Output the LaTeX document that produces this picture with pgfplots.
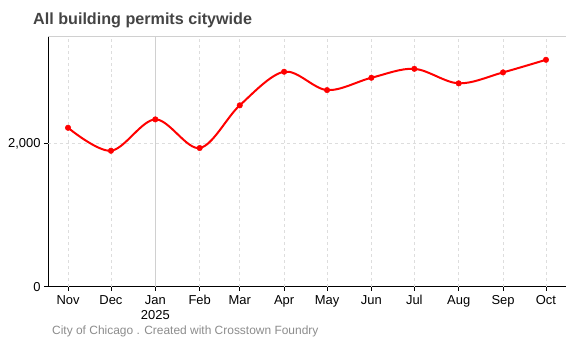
\documentclass[border=0pt]{standalone}
\usepackage{pgfplots}
\pgfplotsset{compat=1.18}
\usepackage{fontspec}
\setmainfont{Liberation Sans}
\definecolor{titlegray}{HTML}{444444}
\definecolor{footgray}{HTML}{8C8C8C}
\definecolor{gridgray}{HTML}{DDDDDD}
\definecolor{jangray}{HTML}{D0D0D0}
\definecolor{linered}{HTML}{FF0000}
\begin{document}
\begin{tikzpicture}
\useasboundingbox (0,0) rectangle (569bp,-347bp);
\node[anchor=base west, inner sep=0, font=\fontsize{16.2}{19}\selectfont\bfseries, text=titlegray] at (33bp,-24.5bp) {All building permits citywide};
\node[anchor=base west, inner sep=0, font=\fontsize{12}{14}\selectfont, text=footgray] at (52bp,-334bp) {City of Chicago . Created with Crosstown Foundry};
\begin{axis}[
  at={(48bp,-286.7bp)}, anchor=south west,
  scale only axis, width=518bp, height=250.7bp,
  xmin=-14, xmax=348, ymin=0, ymax=3500,
  axis x line*=bottom, axis y line*=left,
  axis line style={black, line width=1pt},
  xtick={0,30,61,92,120,151,181,212,242,273,304,334},
  xticklabels={Nov,Dec,{Jan\\2025},Feb,Mar,Apr,May,Jun,Jul,Aug,Sep,Oct},
  xticklabel style={align=center, font=\fontsize{13}{15}\selectfont, yshift=-1bp},
  ytick={0,2000},
  yticklabels={0,{2,000}},
  yticklabel style={font=\fontsize{13}{15}\selectfont},
  tick style={black, line width=0.8pt},
  tick align=outside, major tick length=4bp,
  grid=none,
  clip=false,
]
% grid lines
\pgfplotsinvokeforeach{0,30,92,120,151,181,212,242,273,304,334}{
  \draw[gridgray, dashed, line width=0.6pt] (axis cs:#1,0) -- (axis cs:#1,3500);
}
\draw[jangray, line width=0.8pt] (axis cs:61,0) -- (axis cs:61,3500);
\draw[gridgray, dashed, line width=0.6pt] (axis cs:-14,2000) -- (axis cs:348,2000);
\draw[jangray, line width=0.8pt] (axis cs:-14,3500) -- (axis cs:348,3500);
\addplot[linered, line width=2pt, smooth, tension=0.55, mark=*, mark size=2.8pt, mark options={fill=linered, draw=linered, line width=0.4pt}] coordinates {
(0,2219) (30,1898) (61,2336) (92,1936) (120,2532) (151,3001) (181,2745) (212,2917) (242,3042) (273,2839) (304,2992) (334,3168)
};
\end{axis}
\end{tikzpicture}
\end{document}
